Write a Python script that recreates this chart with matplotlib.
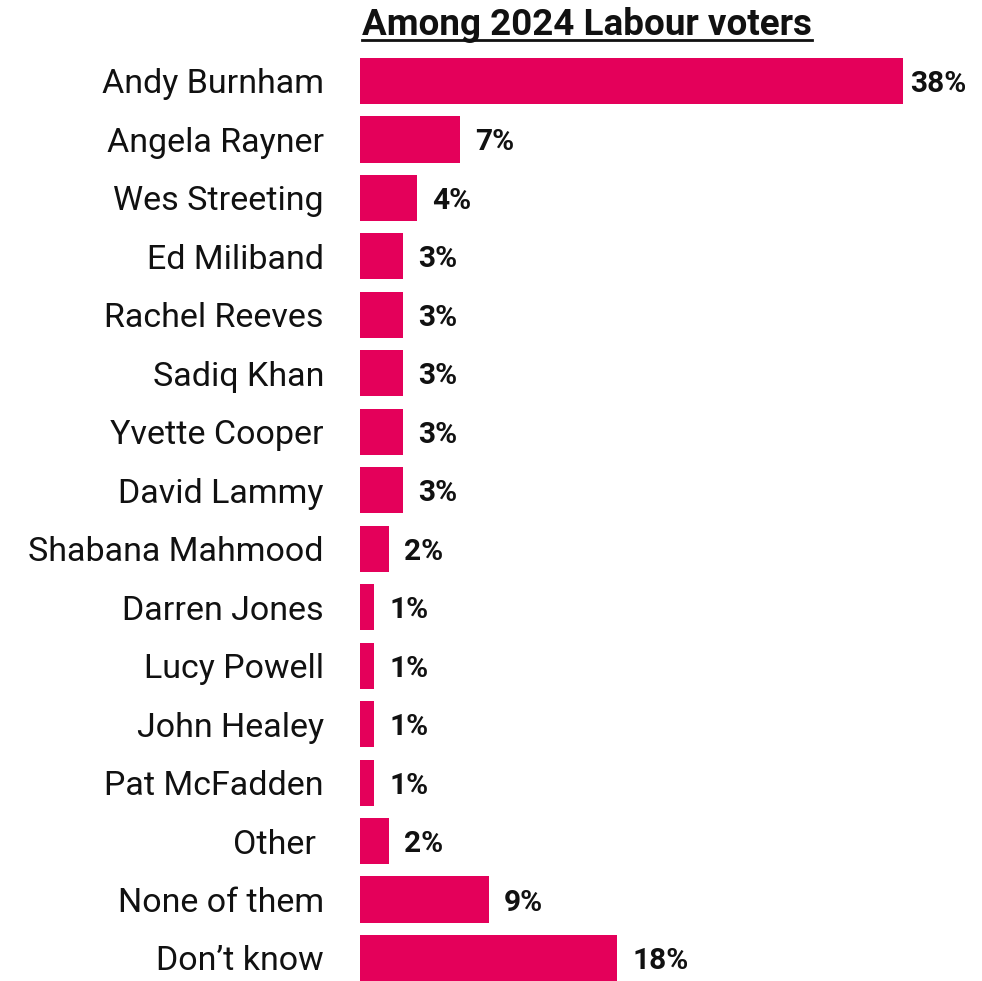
import matplotlib
matplotlib.use("Agg")
import matplotlib.pyplot as plt

names = ["Andy Burnham", "Angela Rayner", "Wes Streeting", "Ed Miliband", "Rachel Reeves",
         "Sadiq Khan", "Yvette Cooper", "David Lammy", "Shabana Mahmood", "Darren Jones",
         "Lucy Powell", "John Healey", "Pat McFadden", "Other ", "None of them", "Don\u2019t know"]
values = [38, 7, 4, 3, 3, 3, 3, 3, 2, 1, 1, 1, 1, 2, 9, 18]
title = "Among 2024 Labour voters"

W, H = 982, 981
fig = plt.figure(figsize=(W / 100, H / 100), dpi=100)
plt.rcParams['font.family'] = ['Roboto', 'DejaVu Sans']

n = len(names)
row = (958 - 81) / (n - 1)
top_px = 81 - row / 2
bot_px = 958 + row / 2
left_px, right_px = 360, 903
ax = fig.add_axes([left_px / W, 1 - bot_px / H, (right_px - left_px) / W, (bot_px - top_px) / H])
ypos = list(range(n))
ax.barh(ypos, values, height=0.79, color="#E4005A")
ax.set_xlim(0, max(values))
ax.set_ylim(n - 0.5, -0.5)
ax.set_yticks(ypos)
ax.set_yticklabels(names, fontsize=24.5, color="#111111")
ax.tick_params(axis='y', length=0, pad=26)
for lab in ax.get_yticklabels():
    lab.set_verticalalignment("center_baseline")
ax.set_xticks([])
for s in ax.spines.values():
    s.set_visible(False)

for y, v in zip(ypos, values):
    off = 5 if v == max(values) else 11
    ax.annotate(f"{v}%", (v, y), xytext=(off, 0), textcoords="offset points",
                ha="left", va="center_baseline", fontsize=21.5, fontweight="bold",
                color="#111111", annotation_clip=False)

t = fig.text(587 / W, 1 - 35 / H, title, ha="center", va="baseline", fontsize=26.5,
             fontweight="bold", color="#111111")
fig.canvas.draw()
bb = t.get_window_extent()
uy = (1 - 40 / H)
fig.add_artist(plt.Line2D([bb.x0 / W, bb.x1 / W], [uy, uy], transform=fig.transFigure,
                          color="#111111", lw=2))

fig.savefig("out.png", dpi=100, facecolor="white")
